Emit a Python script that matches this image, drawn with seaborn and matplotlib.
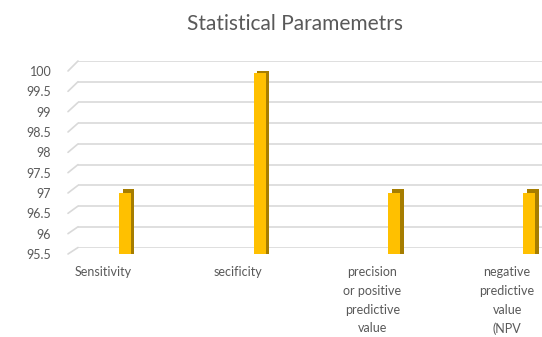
import matplotlib
matplotlib.use("Agg")
import matplotlib.pyplot as plt
from matplotlib.transforms import ScaledTranslation
import seaborn as sns
import pandas as pd

categories = ["Sensitivity", "secificity",
              "precision\nor positive\npredictive\nvalue",
              "negative\npredictive\nvalue\n(NPV"]
values = [97.0, 99.95, 97.0, 97.0]
yticks = [95.5, 96, 96.5, 97, 97.5, 98, 98.5, 99, 99.5, 100]
ytick_labels = ["95.5", "96", "96.5", "97", "97.5", "98", "98.5", "99", "99.5", "100"]
title = "Statistical Paramemetrs"

sns.set_theme(style="white")
plt.rcParams["font.family"] = ["Lato", "DejaVu Sans"]

W, H = 542, 337
fig = plt.figure(figsize=(W / 100, H / 100), dpi=100)
fig.patch.set_facecolor("white")

TXT = "#595959"
GRID = "#D9D9D9"
GOLD = "#FFC000"
DARK = "#A67D00"

df = pd.DataFrame({"cat": categories, "val": values})

# pixel geometry
front_left, front_bottom_px, front_top_px = 68, 254, 71
back_left, back_bottom_px, back_top_px = 78, 247.5, 61
spacing = 134.7
bar0 = 125
xmin = -(bar0 - front_left) / spacing
xmax = 3.6
front_right = bar0 + xmax * spacing

# back wall axes (gridlines)
axb = fig.add_axes([back_left / W, (H - back_bottom_px) / H,
                    (front_right + 10 - back_left) / W,
                    (back_bottom_px - back_top_px) / H])
axb.set_ylim(95.5, 100)
axb.set_yticks(yticks)
axb.set_xticks([])
axb.yaxis.grid(True, color=GRID, linewidth=1.2)
axb.tick_params(left=False, labelleft=False)
for s in axb.spines.values():
    s.set_visible(False)
axb.patch.set_alpha(0)

# front axes (bars, labels)
ax = fig.add_axes([front_left / W, (H - front_bottom_px) / H,
                   (front_right - front_left) / W,
                   (front_bottom_px - front_top_px) / H])
ax.patch.set_alpha(0)

# depth (side/top faces)
sns.barplot(data=df, x="cat", y="val", color=DARK, saturation=1,
            width=0.089, ax=ax, zorder=2, linewidth=0)
n_side = len(ax.patches)
shift = ScaledTranslation(3.5 / 100, 3.5 / 100, fig.dpi_scale_trans)
for p in ax.patches[:n_side]:
    p.set_transform(ax.transData + shift)
# front faces
sns.barplot(data=df, x="cat", y="val", color=GOLD, saturation=1,
            width=0.089, ax=ax, zorder=3, linewidth=0)

ax.set_xlim(xmin, xmax)
ax.set_ylim(95.5, 100)
ax.set_yticks(yticks)
ax.set_yticklabels(ytick_labels)
ax.set_xlabel("")
ax.set_ylabel("")
for s in ax.spines.values():
    s.set_visible(False)
ax.tick_params(axis="y", length=0, pad=12, labelsize=9, labelcolor=TXT)
ax.tick_params(axis="x", length=0, pad=9, labelsize=9, labelcolor=TXT)
lshift = ScaledTranslation(-22 / 100, 0, fig.dpi_scale_trans)
for lab in ax.get_xticklabels():
    lab.set_transform(lab.get_transform() + lshift)
    lab.set_linespacing(1.66)
    lab.set_va("top")

# slanted connectors from front plane to back wall
for v in yticks:
    ax.annotate("", xy=(0, v), xycoords=axb.get_yaxis_transform(),
                xytext=(0, v), textcoords=ax.get_yaxis_transform(),
                arrowprops=dict(arrowstyle="-", color=GRID, lw=1.2,
                                shrinkA=0, shrinkB=0),
                annotation_clip=False, zorder=1)

fig.text(295 / W, 1 - 24 / H, title, ha="center", va="center",
         fontsize=15, color=TXT)

fig.savefig("out.png", dpi=100, facecolor="white")
